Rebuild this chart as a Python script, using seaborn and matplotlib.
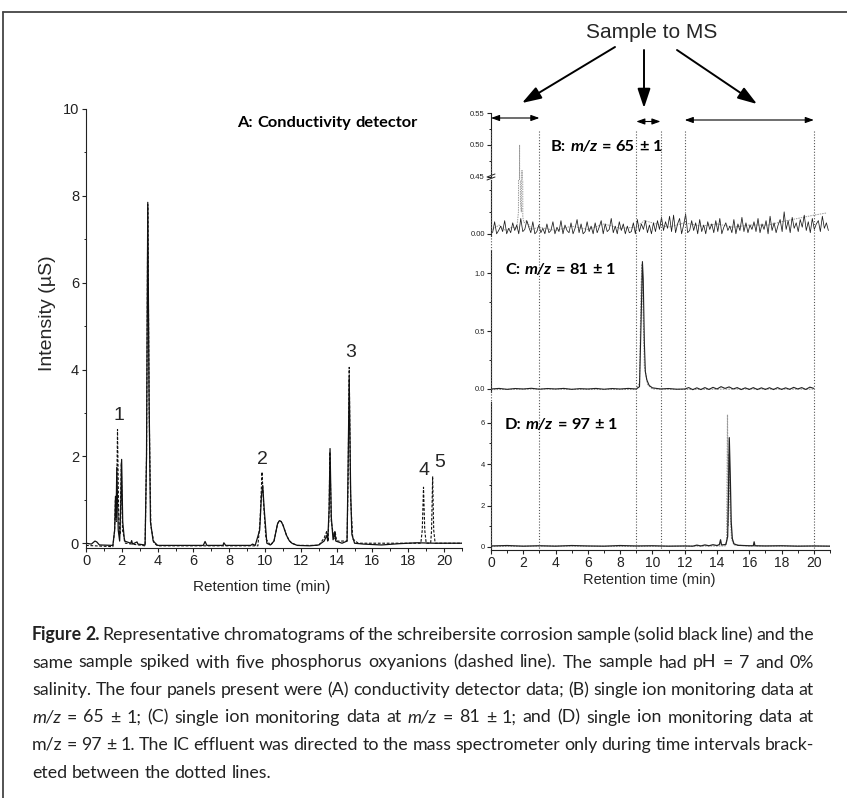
import numpy as np
import pandas as pd
import matplotlib
matplotlib.use("Agg")
import matplotlib.pyplot as plt
import seaborn as sns
from matplotlib.lines import Line2D
from matplotlib.patches import FancyArrowPatch
from matplotlib.transforms import blended_transform_factory
from matplotlib.ticker import MultipleLocator, FixedLocator, FormatStrFormatter

# ---- data (time in min) ----
# A: conductivity detector, sample (solid) and spiked sample (dashed), uS
a_sample = [(0.0, 0.0), (0.3, -0.02), (0.5, 0.05), (0.6, 0.03), (0.75, -0.04), (1.5, -0.05),
            (1.6, 0.3), (1.65, 1.08), (1.68, 0.6), (1.72, 1.75), (1.8, 0.3), (1.88, 0.05),
            (1.95, 1.0), (1.99, 1.93), (2.05, 0.5), (2.15, 0.05), (2.5, 0.0), (2.55, 0.06),
            (2.6, -0.02), (2.85, 0.03), (2.9, -0.02), (3.3, -0.04), (3.38, 2.0), (3.45, 7.85),
            (3.52, 3.5), (3.6, 0.5), (3.75, 0.05), (4.0, -0.05), (6.55, -0.05), (6.65, 0.04),
            (6.75, -0.05), (7.65, -0.05), (7.7, 0.01), (7.8, -0.05), (9.2, -0.05), (9.3, -0.02),
            (9.45, -0.05), (9.7, 0.3), (9.8, 1.1), (9.87, 1.33), (9.95, 0.8), (10.1, 0.0),
            (10.3, -0.04), (10.5, 0.05), (10.6, 0.25), (10.7, 0.45), (10.8, 0.52), (10.9, 0.5),
            (11.0, 0.42), (11.1, 0.3), (11.2, 0.18), (11.35, 0.06), (11.5, 0.0), (11.8, -0.05),
            (12.5, -0.06), (13.0, -0.04), (13.3, 0.05), (13.45, 0.18), (13.5, 0.05), (13.58, 0.8),
            (13.63, 2.18), (13.7, 0.6), (13.8, 0.08), (13.9, 0.27), (13.95, 0.05), (14.3, 0.0),
            (14.58, 0.05), (14.63, 1.5), (14.7, 3.8), (14.78, 1.2), (14.85, 0.2), (15.0, 0.0),
            (15.5, -0.02), (16.5, -0.04), (17.5, -0.01), (18.5, 0.01), (19.5, 0.0), (21.0, 0.0)]
a_spiked = [(0.0, -0.05), (1.5, -0.08), (1.6, 0.3), (1.64, 1.0), (1.69, 0.5), (1.76, 2.62),
            (1.83, 0.5), (1.9, 0.2), (1.97, 1.85), (2.04, 0.3), (2.2, 0.0), (3.3, -0.06),
            (3.38, 2.0), (3.45, 7.8), (3.53, 3.0), (3.62, 0.4), (3.8, 0.0), (4.0, -0.06),
            (9.6, -0.06), (9.72, 0.5), (9.83, 1.64), (9.92, 0.9), (10.05, 0.1), (10.3, -0.05),
            (10.5, 0.05), (10.6, 0.25), (10.7, 0.45), (10.8, 0.52), (10.9, 0.5), (11.0, 0.42),
            (11.1, 0.3), (11.2, 0.18), (11.35, 0.06), (11.5, 0.0), (11.8, -0.05), (13.0, -0.05),
            (13.3, 0.12), (13.45, 0.28), (13.52, 0.05), (13.58, 0.8), (13.62, 2.1), (13.7, 0.5),
            (13.85, 0.1), (13.92, 0.25), (14.0, 0.05), (14.58, 0.05), (14.64, 1.5), (14.7, 4.05),
            (14.78, 1.0), (14.9, 0.1), (15.2, 0.0), (18.7, 0.0), (18.78, 0.3), (18.85, 1.29),
            (18.92, 0.3), (19.0, 0.0), (19.25, 0.0), (19.3, 0.3), (19.36, 1.54), (19.42, 0.3),
            (19.5, 0.0), (21.0, 0.0)]
peak_labels = ["1", "2", "3", "4", "5"]
peak_label_t = [1.84, 9.83, 14.8, 18.88, 19.78]
peak_label_y = [2.95, 1.92, 4.39, 1.67, 1.85]

# B: m/z 65, sample noise in units of 0.001 (evenly sampled 0.1 .. 20.9 min)
b_noise_sample = [1, 11, 0, 3, 7, 2, 12, 0, 5, 1, 10, 3,
                  8, 0, 14, 2, 4, 12, 6, 1, 11, 0, 2, 8,
                  1, 5, 0, 9, 1, 3, 11, 0, 6, 2, 12, 0,
                  8, 3, 1, 10, 0, 5, 13, 1, 9, 0, 2, 11,
                  2, 7, 0, 10, 1, 6, 12, 0, 9, 2, 4, 14,
                  1, 7, 0, 11, 3, 9, 0, 7, 1, 2, 10, 0,
                  13, 2, 9, 4, 12, 1, 8, 0, 10, 2, 12, 4,
                  15, 3, 11, 5, 16, 2, 17, 1, 9, 14, 0, 8,
                  18, 1, 3, 12, 3, 10, 0, 13, 2, 8, 0, 11,
                  4, 9, 1, 12, 2, 14, 0, 6, 10, 3, 7, 1,
                  13, 0, 9, 3, 15, 2, 10, 1, 8, 4, 11, 2,
                  14, 1, 9, 4, 12, 0, 16, 3, 10, 1, 8, 13,
                  2, 20, 4, 12, 1, 15, 5, 10, 2, 13, 6, 17,
                  3, 11, 1, 14, 4, 9, 12, 2, 16, 5, 10, 3]
b_spiked = [(0.1, 0.004), (0.5, 0.008), (0.9, 0.003), (1.3, 0.006), (1.6, 0.005), (1.7, 0.02),
            (1.77, 0.50), (1.82, 0.03), (1.88, 0.02), (1.92, 0.46), (1.97, 0.015), (2.05, 0.01),
            (2.2, 0.012), (2.5, 0.004), (3.0, 0.006), (4.0, 0.003), (5.0, 0.007), (6.0, 0.004),
            (7.0, 0.009), (8.0, 0.005), (9.0, 0.006), (9.5, 0.012), (10.0, 0.01), (10.5, 0.008),
            (11.0, 0.006), (12.0, 0.01), (13.0, 0.007), (14.0, 0.009), (15.0, 0.006), (16.0, 0.008),
            (17.2, 0.008), (18.0, 0.011), (19.0, 0.014), (20.0, 0.017), (20.8, 0.019)]

# C: m/z 81
c_sample = [(0.0, 0.0), (0.5, 0.005), (1.0, -0.003), (1.5, 0.004), (2.0, 0.0), (2.5, 0.006),
            (3.0, -0.002), (3.5, 0.004), (4.0, 0.0), (4.5, 0.005), (5.0, -0.003), (5.5, 0.003),
            (6.0, 0.0), (6.5, 0.005), (7.0, -0.002), (7.5, 0.004), (8.0, 0.0), (8.5, 0.005),
            (9.0, 0.0), (9.2, 0.02), (9.3, 0.6), (9.38, 1.1), (9.43, 0.95), (9.5, 0.4), (9.56, 0.15),
            (9.65, 0.08), (9.8, 0.03), (10.0, 0.01), (10.5, 0.0), (11.0, 0.004), (11.5, -0.002),
            (12.0, 0.0), (12.25, 0.012), (12.5, -0.006), (12.75, 0.01), (13.0, -0.005),
            (13.25, 0.012), (13.5, -0.004), (13.75, 0.014), (14.0, 0.0), (14.25, 0.02),
            (14.5, 0.005), (14.75, 0.018), (15.0, 0.0), (15.25, 0.012), (15.5, -0.005),
            (15.75, 0.01), (16.0, -0.004), (16.25, 0.012), (16.5, -0.005), (16.75, 0.01),
            (17.0, -0.004), (17.25, 0.011), (17.5, -0.005), (17.75, 0.012), (18.0, -0.004),
            (18.25, 0.01), (18.5, -0.003), (18.75, 0.014), (19.0, 0.0), (19.25, 0.012),
            (19.5, -0.004), (19.75, 0.016), (20.0, 0.005)]
c_spiked = [(0.0, -0.005), (3.0, 0.0), (6.0, -0.004), (9.0, -0.004), (9.2, 0.05), (9.3, 0.9),
            (9.36, 1.08), (9.42, 0.7), (9.5, 0.2), (9.7, 0.04), (10.0, 0.0), (12.0, -0.004),
            (16.0, 0.0), (20.0, -0.002)]

# D: m/z 97
d_sample = [(0.0, 0.05), (1.0, 0.07), (2.0, 0.04), (3.0, 0.06), (4.0, 0.04), (5.0, 0.07),
            (6.0, 0.05), (7.0, 0.04), (8.0, 0.07), (9.0, 0.05), (10.0, 0.06), (11.0, 0.04),
            (12.0, 0.05), (12.5, 0.04), (12.75, 0.09), (13.0, 0.05), (13.25, 0.1), (13.5, 0.06),
            (13.75, 0.11), (14.0, 0.07), (14.15, 0.12), (14.22, 0.35), (14.28, 0.1), (14.55, 0.12),
            (14.66, 0.5), (14.71, 2.5), (14.76, 5.28), (14.82, 3.5), (14.88, 1.2), (14.95, 0.4),
            (15.05, 0.15), (15.3, 0.08), (16.0, 0.06), (16.25, 0.06), (16.3, 0.25), (16.35, 0.06),
            (17.0, 0.05), (18.0, 0.06), (19.0, 0.04), (20.0, 0.05), (21.0, 0.04)]
d_spiked = [(0.0, 0.03), (4.0, 0.05), (8.0, 0.03), (12.0, 0.04), (14.5, 0.05), (14.6, 0.3),
            (14.65, 6.39), (14.7, 1.0), (14.74, 4.5), (14.8, 2.0), (14.9, 0.4), (15.05, 0.1),
            (16.0, 0.05), (21.0, 0.04)]

# time windows sent to the MS
ms_windows = [(0, 3), (9, 10.5), (12, 20)]

caption = [
    "**Figure **2. Representative chromatograms of the schreibersite corrosion sample (solid black line) and the",
    "same sample spiked with five phosphorus oxyanions (dashed line). The sample had pH = 7 and 0%",
    "salinity. The four panels present were (A) conductivity detector data; (B) single ion monitoring data at",
    "*m/z = 65 ± 1; (C) single ion monitoring data at *m/z = 81 ± 1; and (D) single ion monitoring data at",
    "m/z = 97 ± 1. The IC effluent was directed to the mass spectrometer only during time intervals brack-",
    "eted between the dotted lines.",
]

# ---- setup ----
sns.set_theme(style="ticks")
plt.rcParams["font.family"] = ["Liberation Sans", "DejaVu Sans"]
cap_font = "Lato"

W, H = 847, 798
fig = plt.figure(figsize=(W / 100, H / 100), dpi=100)
fig.patch.set_facecolor("white")


def fx(x):
    return x / W


def fy(y):
    return 1 - y / H


def box(l, t, r, b):
    return [l / W, 1 - b / H, (r - l) / W, (b - t) / H]


def trace(ax, pts, color="#111111", ls="-", lw=0.8):
    df = pd.DataFrame(pts, columns=["t", "y"])
    sns.lineplot(data=df, x="t", y="y", ax=ax, sort=False, estimator=None,
                 color=color, linestyle=ls, linewidth=lw)
    ax.set(xlabel="", ylabel="")


def style(ax, ylim, bottom=True, ysize=5.5):
    ax.set_xlim(0, 21)
    ax.set_ylim(*ylim)
    ax.set_facecolor("none")
    sns.despine(ax=ax, bottom=not bottom)
    for s in ax.spines.values():
        s.set_linewidth(0.8)
        s.set_color("#222222")
    ax.tick_params(which="major", direction="out", length=3, width=0.8, colors="#222222",
                   labelsize=ysize, pad=1.5)
    ax.tick_params(which="minor", direction="out", length=1.8, width=0.7, colors="#222222")
    if not bottom:
        ax.tick_params(axis="x", which="both", bottom=False, labelbottom=False)
    else:
        ax.xaxis.set_major_locator(MultipleLocator(2))
        ax.xaxis.set_minor_locator(MultipleLocator(1))
        ax.tick_params(axis="x", labelsize=10.5, pad=1.5)


# ---- panel A ----
axA = fig.add_axes(box(86, 109, 462, 548))
trace(axA, a_spiked, color="#111111", ls=(0, (2.5, 1.5)), lw=0.8)
trace(axA, a_sample, color="#111111", lw=0.9)
style(axA, (-0.11, 10), bottom=True, ysize=10.5)
axA.yaxis.set_major_locator(FixedLocator([0, 2, 4, 6, 8, 10]))
axA.yaxis.set_minor_locator(MultipleLocator(1))
axA.tick_params(axis="y", pad=2)
for lab, t, y in zip(peak_labels, peak_label_t, peak_label_y):
    axA.text(t, y, lab, ha="center", va="center", fontsize=14)

# ---- panel B (broken axis) ----
b_df = pd.DataFrame({"t": np.linspace(0.1, 20.9, len(b_noise_sample)),
                     "y": np.array(b_noise_sample) * 0.001})
axB1 = fig.add_axes(box(491, 113, 830, 180))
axB2 = fig.add_axes(box(491, 180, 830, 236))
for ax in (axB1, axB2):
    trace(ax, b_spiked, color="#9a9a9a", ls=(0, (1.5, 1)), lw=0.7)
    trace(ax, list(b_df.itertuples(index=False, name=None)), color="#1a1a1a", lw=0.55)
style(axB1, (0.445, 0.55), bottom=False)
axB1.yaxis.set_major_locator(FixedLocator([0.45, 0.50, 0.55]))
axB1.yaxis.set_minor_locator(FixedLocator([0.475, 0.525]))
axB1.yaxis.set_major_formatter(FormatStrFormatter("%.2f"))
axB1.spines["left"].set_bounds(0.448, 0.55)
style(axB2, (-0.002, 0.049), bottom=False)
axB2.yaxis.set_major_locator(FixedLocator([0.0]))
axB2.yaxis.set_minor_locator(FixedLocator([0.02, 0.04]))
axB2.yaxis.set_major_formatter(FormatStrFormatter("%.2f"))
for yy in (175.5, 178.5):
    fig.add_artist(Line2D([fx(487), fx(495)], [fy(yy + 1.5), fy(yy - 1.5)], color="#222222", lw=0.7))

# ---- panel C ----
axC = fig.add_axes(box(491, 250, 830, 392))
trace(axC, c_spiked, color="#9a9a9a", ls=(0, (1.5, 1)), lw=0.8)
trace(axC, c_sample, color="#222222", lw=0.8)
style(axC, (-0.026, 1.2), bottom=False)
axC.yaxis.set_major_locator(FixedLocator([0.0, 0.5, 1.0]))
axC.yaxis.set_minor_locator(FixedLocator([0.25, 0.75]))
axC.yaxis.set_major_formatter(FormatStrFormatter("%.1f"))

# ---- panel D ----
axD = fig.add_axes(box(491, 402, 830, 550))
trace(axD, d_spiked, color="#9a9a9a", ls=(0, (1.5, 1)), lw=0.8)
trace(axD, d_sample, color="#222222", lw=0.9)
style(axD, (-0.145, 7.0), bottom=True)
axD.yaxis.set_major_locator(FixedLocator([0, 2, 4, 6]))
axD.yaxis.set_minor_locator(FixedLocator([1, 3, 5]))
axD.tick_params(axis="x", labelsize=10, pad=1)

# ---- MS windows: dotted lines and double arrows ----
trans = blended_transform_factory(axD.transData, fig.transFigure)
arrow_rows = [118, 121.5, 120]
for (t0, t1), yy in zip(ms_windows, arrow_rows):
    for t in (t0, t1):
        fig.add_artist(Line2D([t, t], [fy(131), fy(550)], transform=trans,
                              ls=(0, (1, 1.6)), color="#555555", lw=0.8))
    fig.add_artist(FancyArrowPatch((t0, fy(yy)), (t1, fy(yy)), transform=trans,
                                   arrowstyle="<|-|>,head_length=0.5,head_width=0.18",
                                   mutation_scale=10, color="black", lw=0.8,
                                   shrinkA=0, shrinkB=0))

fig.text(fx(652), fy(32), "Sample to MS", ha="center", va="center", fontsize=15)
big_arrows = [((615, 47), (522, 103)), ((644, 50), (644, 108)), ((677, 50), (757, 104))]
for (x0, y0), (x1, y1) in big_arrows:
    fig.add_artist(FancyArrowPatch((fx(x0), fy(y0)), (fx(x1), fy(y1)), transform=fig.transFigure,
                                   arrowstyle="-|>,head_length=0.9,head_width=0.3",
                                   mutation_scale=13, lw=1.4, color="black",
                                   shrinkA=0, shrinkB=0))

# ---- axis labels ----
fig.text(fx(48), fy(313), "Intensity (\u00b5S)", rotation=90, ha="center", va="center",
         fontsize=14)
fig.text(fx(262), fy(587), "Retention time (min)", ha="center", va="center", fontsize=11)
fig.text(fx(649), fy(580), "Retention time (min)", ha="center", va="center", fontsize=10.5)

# ---- rich text (titles, caption) ----
renderer = fig.canvas.get_renderer()


def draw_words(line, x0, base_y, size, family, weight="normal", x1=None, color="#222222"):
    arts = []
    for w in line.split():
        wt, st = weight, "normal"
        if w.startswith("**"):
            w, wt = w[2:], "bold"
        elif w.startswith("*"):
            w, st = w[1:], "italic"
        arts.append(fig.text(0, fy(base_y), w, fontsize=size, family=family,
                             fontweight=wt, fontstyle=st, va="baseline", ha="left",
                             color=color))
    widths = [a.get_window_extent(renderer).width for a in arts]
    t1 = fig.text(0, 0, "n n", fontsize=size, family=family)
    t2 = fig.text(0, 0, "nn", fontsize=size, family=family)
    gap = t1.get_window_extent(renderer).width - t2.get_window_extent(renderer).width
    t1.remove()
    t2.remove()
    if x1 is not None and len(arts) > 1:
        gap = (x1 - x0 - sum(widths)) / (len(arts) - 1)
    x = x0
    for a, w in zip(arts, widths):
        a.set_x(fx(x))
        x += w + gap


title_size = 11.8
draw_words("A: Conductivity detector", 237, 127, title_size, cap_font, weight="bold", color="black")
draw_words("B: *m/z = 65 ± 1", 551, 151, title_size, cap_font, weight="bold", color="black")
draw_words("C: *m/z = 81 ± 1", 505, 274, title_size, cap_font, weight="bold", color="black")
draw_words("D: *m/z = 97 ± 1", 505, 429, title_size, cap_font, weight="bold", color="black")

cap_size = 12.8
for i, line in enumerate(caption):
    last = i == len(caption) - 1
    draw_words(line, 32, 640 + 27.5 * i, cap_size, cap_font, x1=None if last else 814)

# ---- page frame ----
fig.add_artist(Line2D([fx(3), fx(847)], [fy(12), fy(12)], color="#444444", lw=1.3))
fig.add_artist(Line2D([fx(3), fx(3)], [fy(12), fy(798)], color="#444444", lw=1.3))

fig.savefig("out.png", dpi=100)
